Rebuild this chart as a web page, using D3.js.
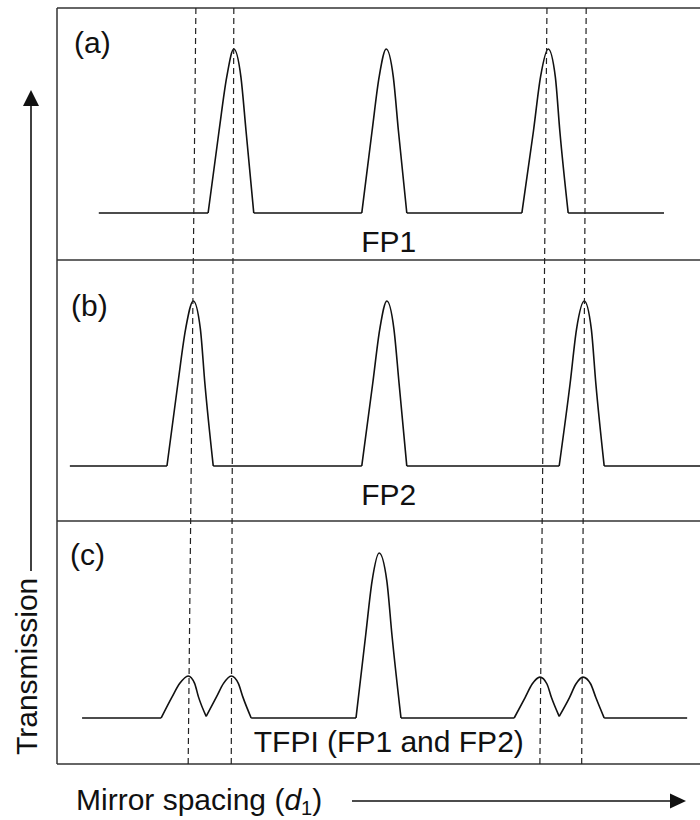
<!DOCTYPE html>
<html><head><meta charset="utf-8">
<script src="https://cdn.jsdelivr.net/npm/d3@7"></script>
<style>body{margin:0;background:#fff}svg{display:block}</style>
</head><body><svg id="chart" width="700" height="820"></svg>
<script>
// ---- data (x: mirror spacing, arbitrary units 0..100; T: relative transmission) ----
const panelLabels = ["(a)", "(b)", "(c)"];
const panelTitles = ["FP1", "FP2", "TFPI (FP1 and FP2)"];
const fp1Curve = [[6.5,0],[23.5,0],[25.2,0.5],[26.4,0.83],[27.5,1],[28.6,0.83],[29.4,0.5],[30.6,0],
  [47.4,0],[49.0,0.5],[50.1,0.83],[51.2,1],[52.3,0.83],[53.1,0.5],[54.4,0],
  [72.3,0],[74.1,0.5],[75.2,0.83],[76.4,1],[77.5,0.83],[78.2,0.5],[79.5,0],[94.4,0]];
const fp2Curve = [[2.0,0],[17.1,0],[18.8,0.5],[20.0,0.83],[21.2,1],[22.3,0.83],[23.0,0.5],[24.3,0],
  [47.4,0],[49.1,0.5],[50.2,0.83],[51.3,1],[52.4,0.83],[53.2,0.5],[54.4,0],
  [78.1,0],[79.8,0.5],[80.8,0.83],[82.0,1],[83.1,0.83],[83.8,0.5],[85.1,0],[100,0]];
const tfpiCurve = [[3.9,0],[16.2,0],[17.9,0.128],[19.1,0.21],[20.4,0.255],[21.4,0.21],[22.0,0.128],[23.2,0.01],
  [24.8,0.128],[25.9,0.21],[27.1,0.255],[28.2,0.21],[28.9,0.128],[30.2,0],
  [46.5,0],[48.0,0.5],[49.0,0.83],[50.1,1],[51.3,0.83],[52.1,0.5],[53.5,0],
  [71.1,0],[72.8,0.124],[73.9,0.206],[75.1,0.248],[76.2,0.206],[76.9,0.124],[78.1,0.01],
  [79.7,0.124],[80.7,0.206],[81.8,0.248],[83.0,0.206],[83.8,0.124],[85.1,0],[98.0,0]];
const dashTop = [21.6, 27.5, 76.2, 82.3];
const dashBottom = [20.4, 27.1, 75.1, 81.6];
const titleX = 51.6;
const xAxisLabel = "Mirror spacing (";
const yAxisLabel = "Transmission";

// ---- layout ----
const W = 700, H = 820;
const frameLeft = 57, frameRight = 700;
const panelEdges = [8, 260, 521, 764];
const baseYs = [213, 466, 718];
const peakYs = [49, 301, 553];
const labelPos = [[74, 53], [71, 316], [70, 565]];
const titleYs = [252, 505, 752];
const curves = [fp1Curve, fp2Curve, tfpiCurve];
const font = "'Liberation Sans', Arial, Helvetica, sans-serif";

const svg = d3.select("#chart");
const x = d3.scaleLinear().domain([0, 100]).range([frameLeft, frameRight]);

// frame
const frame = svg.append("g").attr("stroke", "#333").attr("stroke-width", 1.5);
frame.append("line").attr("x1", frameLeft).attr("x2", frameLeft)
  .attr("y1", panelEdges[0]).attr("y2", panelEdges[3]);
panelEdges.forEach(yy => frame.append("line").attr("x1", frameLeft).attr("x2", frameRight)
  .attr("y1", yy).attr("y2", yy));

// curves
curves.forEach((pts, i) => {
  const y = d3.scaleLinear().domain([0, 1]).range([baseYs[i], peakYs[i]]);
  const line = d3.line().x(d => x(d[0])).y(d => y(d[1])).curve(d3.curveMonotoneX);
  // split into segments at corner points (zero transmission)
  const segs = [];
  let cur = [pts[0]];
  for (let k = 1; k < pts.length; k++) {
    cur.push(pts[k]);
    if (pts[k][1] <= 0.011 && k < pts.length - 1) { segs.push(cur); cur = [pts[k]]; }
  }
  segs.push(cur);
  const g = svg.append("g");
  segs.forEach(s => g.append("path").attr("d", line(s)).attr("fill", "none")
    .attr("stroke", "#111").attr("stroke-width", 1.6).attr("stroke-linejoin", "round"));

  svg.append("text").attr("x", labelPos[i][0]).attr("y", labelPos[i][1])
    .attr("font-family", font).attr("font-size", 30).attr("fill", "#111").text(panelLabels[i]);
  svg.append("text").attr("x", x(titleX)).attr("y", titleYs[i]).attr("text-anchor", "middle")
    .attr("font-family", font).attr("font-size", 30).attr("fill", "#111").text(panelTitles[i]);
});

// dashed guide lines
dashTop.forEach((t, i) => svg.append("line")
  .attr("x1", x(t)).attr("y1", panelEdges[0]).attr("x2", x(dashBottom[i])).attr("y2", panelEdges[3])
  .attr("stroke", "#222").attr("stroke-width", 1.2).attr("stroke-dasharray", "6,4"));

// y axis label + arrow
svg.append("text").attr("transform", "translate(37,755) rotate(-90)")
  .attr("font-family", font).attr("font-size", 30).attr("fill", "#111").text(yAxisLabel);
svg.append("line").attr("x1", 31).attr("x2", 31).attr("y1", 571).attr("y2", 104)
  .attr("stroke", "#111").attr("stroke-width", 1.6);
svg.append("path").attr("d", "M31,90 L39,106 L23,106 Z").attr("fill", "#111");

// x axis label + arrow
const xt = svg.append("text").attr("x", 76).attr("y", 810)
  .attr("font-family", font).attr("font-size", 30).attr("fill", "#111");
xt.append("tspan").text(xAxisLabel);
xt.append("tspan").attr("font-style", "italic").text("d");
xt.append("tspan").attr("font-size", 20).attr("dy", 5).text("1");
xt.append("tspan").attr("dy", -5).text(")");
svg.append("line").attr("x1", 352).attr("x2", 672).attr("y1", 801).attr("y2", 801)
  .attr("stroke", "#111").attr("stroke-width", 1.6);
svg.append("path").attr("d", "M686,801 L670,793.5 L670,808.5 Z").attr("fill", "#111");
</script></body></html>
